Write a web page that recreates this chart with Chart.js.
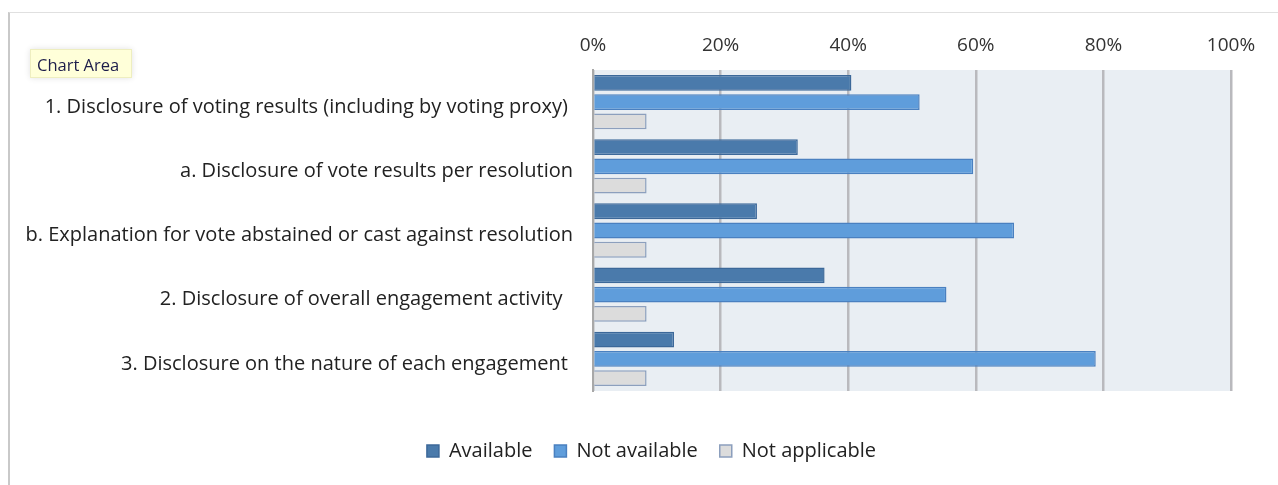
<!DOCTYPE html>
<html><head><meta charset="utf-8">
<script src="https://cdn.jsdelivr.net/npm/chart.js@4/dist/chart.umd.min.js"></script>
<style>
html,body{margin:0;padding:0;background:#fff;}
#wrap{position:relative;width:1278px;height:485px;}
#frame{position:absolute;left:8px;top:12px;right:0;bottom:0;border-left:2px solid #c9c9c9;border-top:1px solid #e0e0e0;pointer-events:none;}
#tip{position:absolute;left:30px;top:49px;width:88px;height:20px;padding:3px 6px 4px 6px;line-height:20px;background:#ffffd9;font:16.5px "Open Sans",sans-serif;color:#1c1c4a;box-shadow:0 0 6px rgba(0,0,0,0.12);border:1px solid #eeeec0;white-space:nowrap;}
canvas{position:absolute;left:0;top:0;}
</style></head>
<body><div id="wrap"><canvas id="c" width="1278" height="485"></canvas><div id="frame"></div><div id="tip">Chart Area</div></div>
<script>
const categories = [
  "1. Disclosure of voting results (including by voting proxy) ",
  "a. Disclosure of vote results per resolution",
  "b. Explanation for vote abstained or cast against resolution",
  "2. Disclosure of overall engagement activity  ",
  "3. Disclosure on the nature of each engagement "
];
const available = [40.5, 32.1, 25.7, 36.3, 12.7];
const notAvailable = [51.2, 59.6, 66.0, 55.4, 78.8];
const notApplicable = [8.4, 8.4, 8.4, 8.4, 8.4];
const tickValues = [0, 20, 40, 60, 80, 100];

const FONT = "Open Sans";
const plotBg = {
  id: 'plotBg',
  beforeDraw(chart) {
    const {ctx, chartArea: a} = chart;
    ctx.save();
    ctx.fillStyle = '#e9eef3';
    ctx.fillRect(a.left, a.top, a.right - a.left, a.bottom - a.top);
    ctx.restore();
  }
};
const LEGEND_SHIFT = 31;
const legendShift = {
  id: 'legendShift',
  afterLayout(chart) {
    const l = chart.legend;
    if (l) { l.left += LEGEND_SHIFT; l.right += LEGEND_SHIFT; }
  }
};
const PADL = 10;
new Chart(document.getElementById('c'), {
  type: 'bar',
  data: {
    labels: categories,
    datasets: [
      {label: 'Available', data: available, backgroundColor: '#4a7aab', borderColor: '#3c6899', borderWidth: 1.5},
      {label: 'Not available', data: notAvailable, backgroundColor: '#5f9ddb', borderColor: '#4a80c0', borderWidth: 1.5},
      {label: 'Not applicable', data: notApplicable, backgroundColor: '#dcdcdc', borderColor: '#8c9fbd', borderWidth: 1.5}
    ]
  },
  plugins: [plotBg, legendShift],
  options: {
    indexAxis: 'y',
    responsive: false,
    animation: false,
    devicePixelRatio: 1,
    layout: {padding: {left: PADL, right: 47, top: 30, bottom: 14}},
    datasets: {bar: {categoryPercentage: 0.9, barPercentage: 0.82}},
    scales: {
      x: {
        position: 'top', min: 0, max: 100,
        afterBuildTicks(s) { s.ticks = tickValues.map(v => ({value: v})); },
        ticks: {callback: v => v + '%', color: '#333', font: {family: FONT, size: 19}, padding: 13},
        grid: {color: '#b9b9bd', lineWidth: 2.5, drawTicks: false},
        border: {display: false},
        afterFit(s) { s.height = 40; }
      },
      x2: {
        position: 'bottom', min: 0, max: 100,
        ticks: {display: false},
        grid: {display: false, drawTicks: false},
        border: {display: false},
        afterFit(s) { s.height = 28; }
      },
      y: {
        ticks: {color: '#222', font: {family: FONT, size: 20}, padding: 20, labelOffset: 5},
        grid: {display: false, drawTicks: false},
        border: {display: true, color: '#a8a8a8', width: 2},
        afterFit(s) { s.width = 593 - PADL; }
      }
    },
    plugins: {
      legend: {
        position: 'bottom',
        labels: {color: '#222', font: {family: FONT, size: 20}, boxWidth: 12, boxHeight: 12, padding: 22}
      },
      tooltip: {enabled: false}
    }
  }
});
</script></body></html>
